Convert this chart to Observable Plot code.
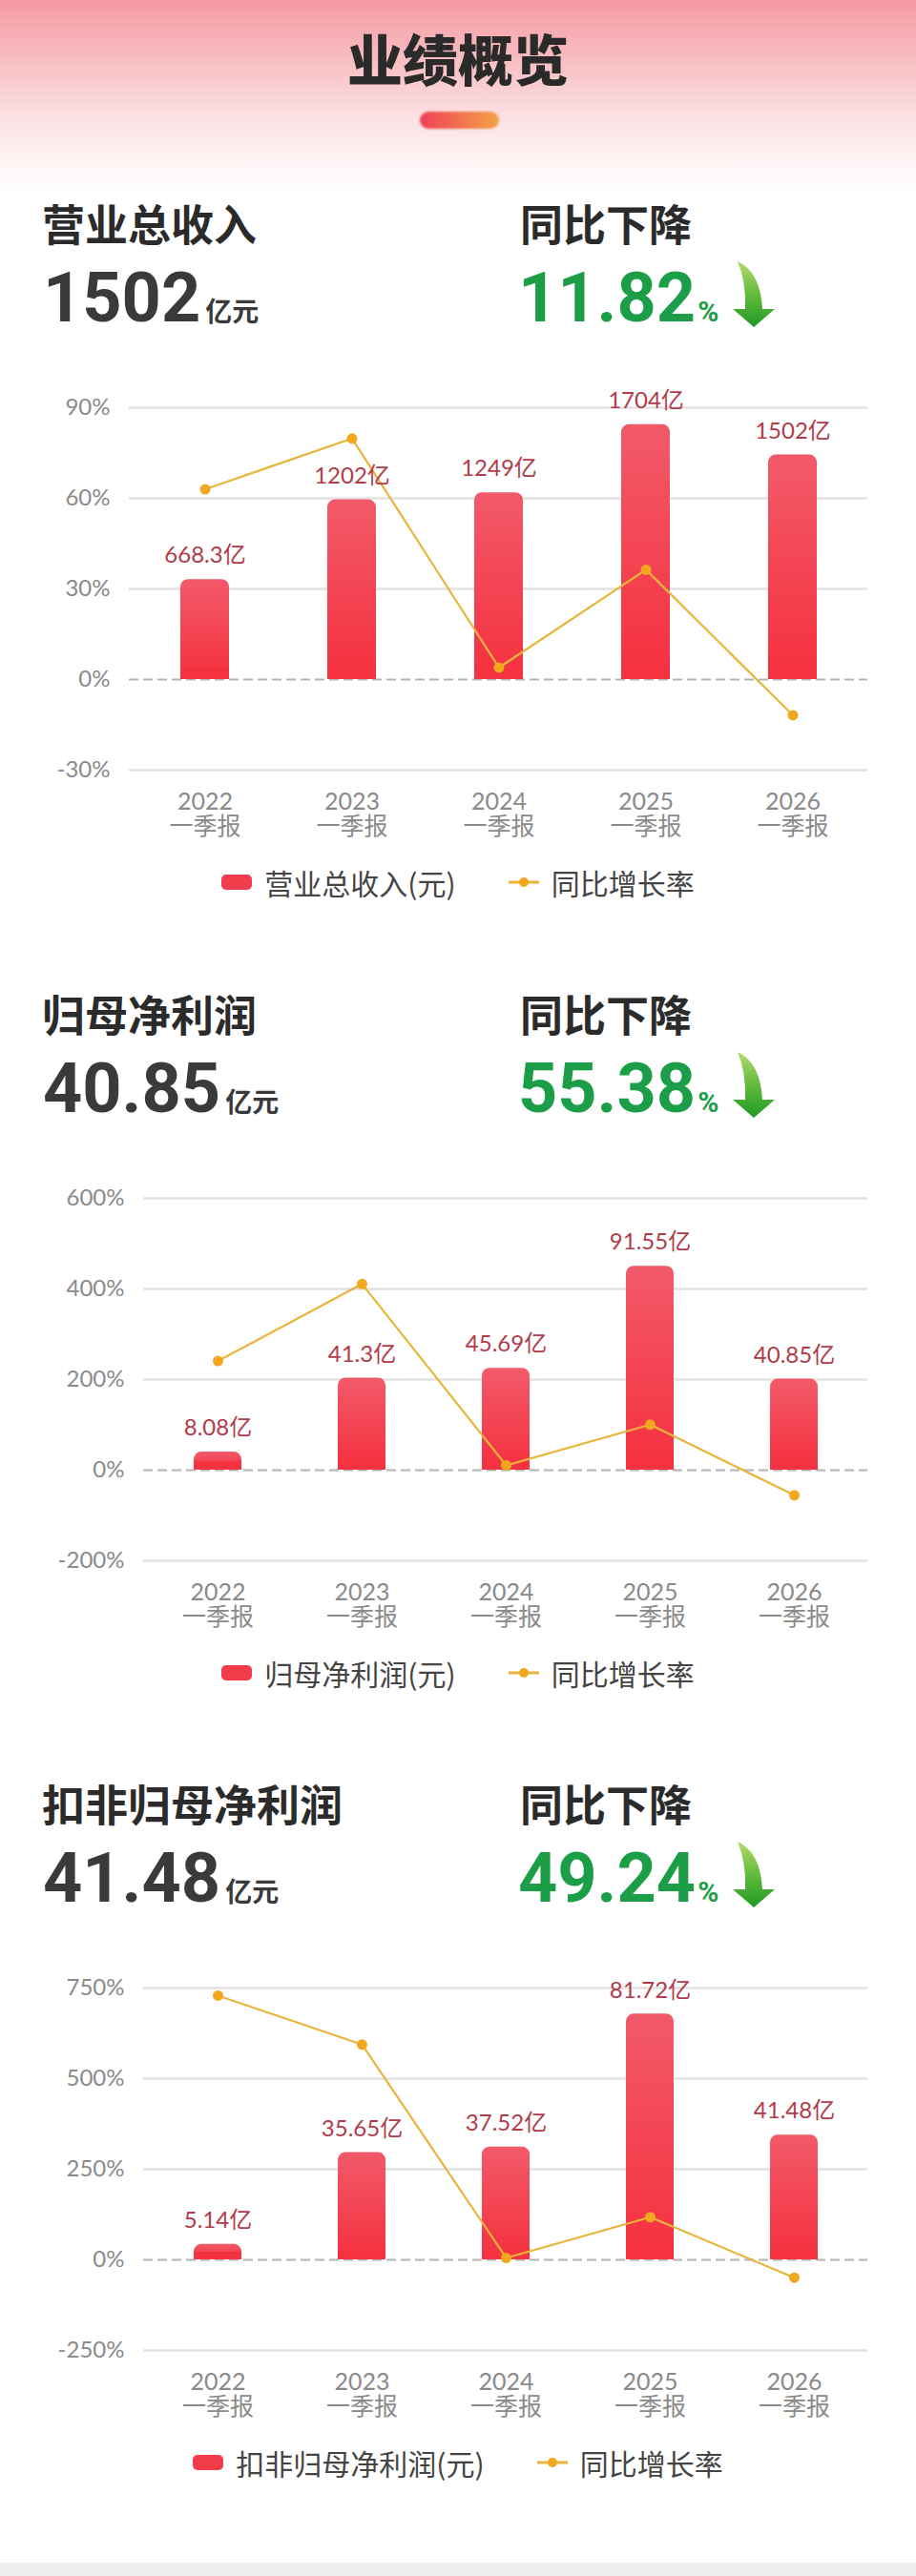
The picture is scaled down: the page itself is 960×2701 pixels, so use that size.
<!DOCTYPE html>
<html>
<head>
<meta charset="utf-8">
<script src="https://cdn.jsdelivr.net/npm/d3@7"></script>
<script src="https://cdn.jsdelivr.net/npm/@observablehq/plot@0.6"></script>
<style>
  body { margin: 0; background: #fff; }
  #page { position: relative; width: 960px; height: 2701px; overflow: hidden; background: #fff;
          font-family: "Noto Sans CJK SC", sans-serif; }
  .topbg { position: absolute; left: 0; top: 0; width: 960px; height: 230px;
           background: linear-gradient(180deg, #f59aa3 0px, #f7b9be 55px, #fbdfe1 120px, #fff 200px); }
  .title { position: absolute; left: 0; top: 31px; width: 960px; text-align: center; font-size: 58px;
           line-height: 1; font-weight: 900; color: #2a2a2a; }
  .pill { position: absolute; left: 440px; top: 117px; width: 83px; height: 18px; border-radius: 9px;
          background: linear-gradient(90deg, #ef4159, #f3a245); filter: blur(1px); }
  .head { position: absolute; font-size: 45px; line-height: 1; font-weight: 700; color: #2b2b2b; }
  .num { position: absolute; line-height: 1; white-space: nowrap; }
  .num .big { font-family: Roboto, sans-serif; font-weight: 700; font-size: 72px; }
  .num .unit { font-family: "Noto Sans CJK SC", sans-serif; font-weight: 700; font-size: 28px; margin-left: 5px; }
  .num .pct { font-family: Roboto, sans-serif; font-weight: 700; font-size: 30px; margin-left: 2px; }
  .arrow { position: absolute; width: 44px; height: 70px; }
  .chart { position: absolute; left: 0; width: 960px; }
  .legend { position: absolute; left: 0; width: 960px; height: 40px; display: flex; justify-content: center;
            align-items: center; font-size: 30px; color: #444; }
  .sw { width: 32px; height: 16px; border-radius: 5px; background: #f23c4c; margin-right: 13px; }
  .lk { margin-left: 55px; margin-right: 13px; }
  .bottom { position: absolute; left: 0; top: 2687px; width: 960px; height: 14px; background: #efefef; }
</style>
</head>
<body>
<div id="page">
  <div class="topbg"></div>
  <div class="title">业绩概览</div>
  <div class="pill"></div>
  <div class="bottom"></div>
</div>
<script>
// ---------- data ----------
const periods = ["2022", "2023", "2024", "2025", "2026"];
const periodSuffix = "一季报";

const revenue = [668.3, 1202, 1249, 1704, 1502];          // 亿元
const revenueGrowth = [63.0, 79.8, 3.95, 36.35, -11.82];    // %
const netProfit = [8.08, 41.3, 45.69, 91.55, 40.85];        // 亿元
const netProfitGrowth = [240.9, 410.9, 10.6, 100.4, -55.38];
const deductProfit = [5.14, 35.65, 37.52, 81.72, 41.48];    // 亿元
const deductProfitGrowth = [729, 594, 5.3, 117.8, -49.24];

const sectionTitles = ["营业总收入", "归母净利润", "扣非归母净利润"];
const sectionTotals = ["1502", "40.85", "41.48"];
const sectionChanges = ["11.82", "55.38", "49.24"];
const changeLabel = "同比下降";
const totalUnit = "亿元";
const legendBarLabels = ["营业总收入(元)", "归母净利润(元)", "扣非归母净利润(元)"];
const legendLineLabel = "同比增长率";

const revenueTicks = [-30, 0, 30, 60, 90];
const netProfitTicks = [-200, 0, 200, 400, 600];
const deductTicks = [-250, 0, 250, 500, 750];

// secondary (bar) axis top values, aligned with the top % tick
const barAxisMax = [1818, 122, 90.4];

// ---------- layout ----------
const sectionTop = [0, 829, 1657];
const marginLefts = [135, 150, 150];
const sections = [
  {values: revenue, growth: revenueGrowth, ticks: revenueTicks},
  {values: netProfit, growth: netProfitGrowth, ticks: netProfitTicks},
  {values: deductProfit, growth: deductProfitGrowth, ticks: deductTicks}
];

const page = document.getElementById("page");
const svgNS = "http://www.w3.org/2000/svg";

function el(tag, cls, style, html) {
  const e = document.createElement(tag);
  if (cls) e.className = cls;
  if (style) e.setAttribute("style", style);
  if (html != null) e.innerHTML = html;
  page.appendChild(e);
  return e;
}

function arrowSvg(id) {
  return `<svg width="44" height="70" viewBox="0 0 44 70">
  <defs><linearGradient id="${id}" x1="0" y1="0" x2="0" y2="1">
    <stop offset="0" stop-color="#b4d96a"/><stop offset="0.55" stop-color="#5cb83a"/><stop offset="1" stop-color="#1f9a25"/>
  </linearGradient></defs>
  <path d="M5,1 Q29,12 31,51 L44,51 L22,70 L0,51 L13,51 Q14,22 5,1 Z" fill="url(#${id})"/>
</svg>`;
}

sections.forEach((s, i) => {
  const o = sectionTop[i];
  el("div", "head", `left:44px;top:${o + 211}px;`, sectionTitles[i]);
  el("div", "head", `left:545px;top:${o + 211}px;`, changeLabel);
  el("div", "num", `left:45px;top:${o + 277}px;color:#3a3a3a;`,
     `<span class="big">${sectionTotals[i]}</span><span class="unit">${totalUnit}</span>`);
  el("div", "num", `left:543px;top:${o + 277}px;color:#1c9e48;`,
     `<span class="big">${sectionChanges[i]}</span><span class="pct">%</span>`);
  el("div", "arrow", `left:768px;top:${o + 273}px;`, arrowSvg("ag" + i));

  // chart
  const rows = periods.map((p, k) => ({period: p, value: s.values[k], growth: s.growth[k]}));
  const yMin = s.ticks[0], yMax = s.ticks[s.ticks.length - 1];
  const ratio = yMax / barAxisMax[i];
  const plotH = 380;
  const unitPerPx = (yMax - yMin) / plotH;
  const gid = "barGrad" + i;

  const chart = Plot.plot({
    width: 960,
    height: 510,
    marginTop: 47,
    marginBottom: 83,
    marginLeft: marginLefts[i],
    marginRight: 51,
    style: {fontFamily: "Lato, 'Noto Sans CJK SC', sans-serif", fontSize: "24px", color: "#8a8a8a",
            background: "transparent", overflow: "visible"},
    x: {domain: periods, paddingInner: 0.67, paddingOuter: 0.335, label: null},
    y: {domain: [yMin, yMax], label: null},
    marks: [
      Plot.ruleY(s.ticks.filter(t => t !== 0), {stroke: "#e2e2e2", strokeWidth: 2.5}),
      Plot.ruleY([0], {stroke: "#b3b3b3", strokeWidth: 2, strokeDasharray: "10,5"}),
      Plot.barY(rows, {x: "period", y: d => d.value * ratio, fill: `url(#${gid})`, rx: 8}),
      Plot.barY(rows, {x: "period", y: d => Math.min(d.value * ratio / 2, 9 * unitPerPx), fill: "#f5323f"}),
      Plot.line(rows, {x: "period", y: "growth", stroke: "#e9b43a", strokeWidth: 2.2}),
      Plot.dot(rows, {x: "period", y: "growth", r: 5.5, fill: "#f2a81e"}),
      Plot.text(rows, {x: "period", y: d => d.value * ratio, text: d => d.value + "亿", dy: -25,
                       fill: "#b23a4a", fontSize: 24}),
      Plot.axisY({ticks: s.ticks, tickSize: 0, tickPadding: 20, tickFormat: d => d + "%", fontSize: 24}),
      Plot.axisX({tickSize: 0, tickPadding: 23, tickFormat: d => d + "\n" + periodSuffix, fontSize: 25, lineHeight: 1.05})
    ]
  });
  const defs = document.createElementNS(svgNS, "defs");
  defs.innerHTML = `<linearGradient id="${gid}" x1="0" y1="0" x2="0" y2="1">
      <stop offset="0" stop-color="#f25a69"/><stop offset="1" stop-color="#f5303f"/></linearGradient>`;
  chart.insertBefore(defs, chart.firstChild);
  const wrap = el("div", "chart", `top:${o + 380}px;`);
  wrap.appendChild(chart);

  // legend
  el("div", "legend", `top:${o + 905}px;`,
     `<div class="sw"></div><span>${legendBarLabels[i]}</span>
      <svg class="lk" width="32" height="14"><line x1="0" y1="7" x2="32" y2="7" stroke="#e9b43a" stroke-width="3"/>
      <circle cx="16" cy="7" r="5" fill="#f2a81e"/></svg><span>${legendLineLabel}</span>`);
});
</script>
</body>
</html>
